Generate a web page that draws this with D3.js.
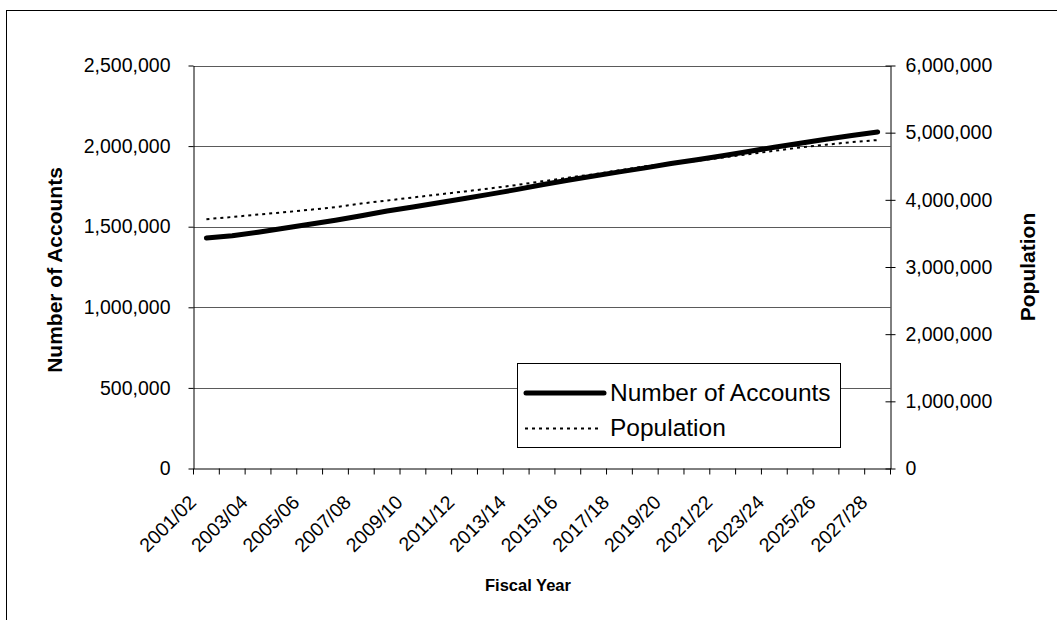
<!DOCTYPE html>
<html>
<head>
<meta charset="utf-8">
<script src="https://cdn.jsdelivr.net/npm/d3@7"></script>
<style>
  html, body { margin: 0; padding: 0; background: #fff; }
  svg { display: block; font-family: "Liberation Sans", Arial, sans-serif; }
</style>
</head>
<body>
<svg id="chart" width="1057" height="620"></svg>
<script>
// Fiscal years on the category axis
const categories = [
  "2001/02","2002/03","2003/04","2004/05","2005/06","2006/07","2007/08",
  "2008/09","2009/10","2010/11","2011/12","2012/13","2013/14","2014/15",
  "2015/16","2016/17","2017/18","2018/19","2019/20","2020/21","2021/22",
  "2022/23","2023/24","2024/25","2025/26","2026/27","2027/28"
];

// Number of accounts (left axis)
const accounts = [
  1430000, 1444000, 1466000, 1490000, 1515000, 1540000, 1568000,
  1597000, 1622000, 1648000, 1675000, 1702000, 1730000, 1760000,
  1788000, 1815000, 1840000, 1865000, 1892000, 1915000, 1940000,
  1967000, 1993000, 2018000, 2043000, 2066000, 2088000
];

// Population (right axis)
const population = [
  3712000, 3745000, 3780000, 3815000, 3852000, 3890000, 3945000,
  3990000, 4035000, 4080000, 4125000, 4170000, 4220000, 4275000,
  4330000, 4380000, 4440000, 4500000, 4540000, 4580000, 4630000,
  4680000, 4730000, 4780000, 4820000, 4860000, 4890000
];

const leftTicks = [0, 500000, 1000000, 1500000, 2000000, 2500000];
const rightTicks = [0, 1000000, 2000000, 3000000, 4000000, 5000000, 6000000];

const svg = d3.select("#chart");
const plot = { left: 193.5, right: 890.5, top: 65.5, bottom: 468.5 };

// outer chart frame
svg.append("rect")
  .attr("x", 6.5).attr("y", 10.5)
  .attr("width", 1100).attr("height", 700)
  .attr("fill", "#fff").attr("stroke", "#000").attr("stroke-width", 1);

const x = d3.scaleBand().domain(categories).range([plot.left, plot.right]).padding(0);
const cx = d => x(d) + x.bandwidth() / 2;
const yL = d3.scaleLinear().domain([0, 2500000]).range([plot.bottom, plot.top]);
const yR = d3.scaleLinear().domain([0, 6000000]).range([plot.bottom, plot.top]);
const fmt = d3.format(",");

// horizontal gridlines
svg.append("g")
  .selectAll("line")
  .data(leftTicks.filter(d => d > 0))
  .join("line")
  .attr("x1", plot.left).attr("x2", plot.right)
  .attr("y1", d => Math.round(yL(d)) + 0.5).attr("y2", d => Math.round(yL(d)) + 0.5)
  .attr("stroke", "#5a5a5a").attr("stroke-width", 1);

// left axis
const gL = svg.append("g")
  .attr("transform", `translate(${plot.left},0)`)
  .call(d3.axisLeft(yL).tickValues(leftTicks).tickFormat(fmt).tickSize(5).tickSizeOuter(0).tickPadding(18));
gL.select(".domain").attr("stroke", "#000");
gL.selectAll(".tick text").attr("font-size", 19.5).attr("fill", "#000");

// right axis, ticks cross the line
const gR = svg.append("g")
  .attr("transform", `translate(${plot.right},0)`)
  .call(d3.axisRight(yR).tickValues(rightTicks).tickFormat(fmt).tickSize(5).tickSizeOuter(0).tickPadding(10));
gR.select(".domain").attr("stroke", "#000");
gR.selectAll(".tick line").attr("x1", -5).attr("x2", 5);
gR.selectAll(".tick text").attr("font-size", 19.5).attr("fill", "#000");

// bottom axis: labels on every other category
const gX = svg.append("g")
  .attr("transform", `translate(0,${plot.bottom})`)
  .call(d3.axisBottom(x).tickSize(0).tickSizeOuter(0)
    .tickFormat((d, i) => i % 2 === 0 ? d : ""));
gX.select(".domain").attr("stroke", "#000");
gX.selectAll(".tick text")
  .attr("font-size", 19.5).attr("fill", "#000")
  .attr("x", 0).attr("y", 0).attr("dy", 0)
  .attr("transform", "translate(-9,35) rotate(-45)")
  .style("text-anchor", "end");

// tick marks between categories
const bounds = categories.map(d => x(d)).concat([plot.right]);
svg.append("g")
  .selectAll("line")
  .data(bounds)
  .join("line")
  .attr("x1", d => d).attr("x2", d => d)
  .attr("y1", plot.bottom).attr("y2", plot.bottom + 6)
  .attr("stroke", "#000");

// series lines
const popLine = d3.line().x((d, i) => cx(categories[i])).y(d => yR(d));
const accLine = d3.line().x((d, i) => cx(categories[i])).y(d => yL(d));

svg.append("path")
  .datum(population)
  .attr("d", popLine)
  .attr("fill", "none").attr("stroke", "#000")
  .attr("stroke-width", 2).attr("stroke-dasharray", "3,4");

svg.append("path")
  .datum(accounts)
  .attr("d", accLine)
  .attr("fill", "none").attr("stroke", "#000")
  .attr("stroke-width", 5).attr("stroke-linecap", "round").attr("stroke-linejoin", "round");

// axis titles
svg.append("text")
  .attr("transform", "translate(62,270) rotate(-90)")
  .attr("text-anchor", "middle")
  .attr("font-size", 21).attr("font-weight", "bold")
  .text("Number of Accounts");

svg.append("text")
  .attr("transform", "translate(1035,267) rotate(-90)")
  .attr("text-anchor", "middle")
  .attr("font-size", 21).attr("font-weight", "bold")
  .text("Population");

svg.append("text")
  .attr("x", 528).attr("y", 591)
  .attr("text-anchor", "middle")
  .attr("font-size", 16.5).attr("font-weight", "bold")
  .text("Fiscal Year");

// legend
const lg = svg.append("g");
lg.append("rect")
  .attr("x", 517.5).attr("y", 363.5).attr("width", 323).attr("height", 84)
  .attr("fill", "#fff").attr("stroke", "#000");
lg.append("line")
  .attr("x1", 526).attr("x2", 604).attr("y1", 393).attr("y2", 393)
  .attr("stroke", "#000").attr("stroke-width", 5).attr("stroke-linecap", "round");
lg.append("text")
  .attr("x", 610).attr("y", 401)
  .attr("font-size", 24.5)
  .text("Number of Accounts");
lg.append("line")
  .attr("x1", 525).attr("x2", 600).attr("y1", 428.5).attr("y2", 428.5)
  .attr("stroke", "#000").attr("stroke-width", 2).attr("stroke-dasharray", "3,4");
lg.append("text")
  .attr("x", 610).attr("y", 436)
  .attr("font-size", 24.5)
  .text("Population");
</script>
</body>
</html>
